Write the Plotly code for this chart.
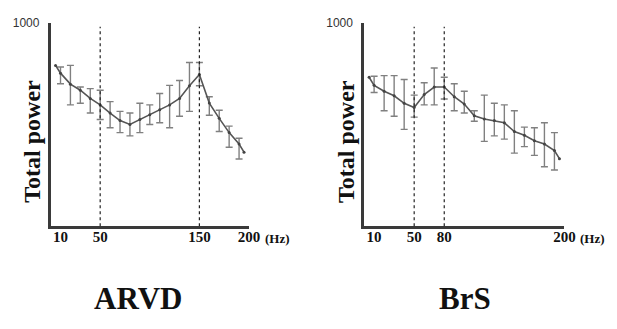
import plotly.graph_objects as go

# ---------------- data ----------------
freq_line = [5, 10, 20, 30, 40, 50, 60, 70, 80, 90, 100, 110, 120, 130, 140, 150, 160, 170, 180, 190, 195]
freq_bars = [10, 20, 30, 40, 50, 60, 70, 80, 90, 100, 110, 120, 130, 140, 150, 160, 170, 180, 190]

arvd_mean = [790, 752, 698, 668, 628, 596, 556, 519, 500, 524, 548, 572, 596, 628, 690, 745, 605, 530, 460, 404, 364]
arvd_upper = [782, 790, 684, 676, 668, 612, 564, 556, 604, 596, 652, 692, 716, 804, 804, 636, 570, 492, 432]
arvd_lower = [700, 596, 604, 556, 524, 484, 460, 444, 460, 500, 508, 484, 540, 564, 690, 545, 465, 388, 330]

brs_mean = [732, 692, 663, 641, 604, 583, 647, 684, 684, 636, 600, 543, 527, 519, 508, 465, 447, 420, 404, 372, 332]
brs_upper = [737, 740, 740, 721, 644, 705, 777, 732, 700, 663, 567, 644, 604, 596, 567, 487, 484, 508, 460]
brs_lower = [657, 567, 540, 476, 536, 596, 596, 625, 567, 556, 516, 417, 444, 428, 359, 391, 348, 292, 276]

arvd_vlines = [50, 150]
brs_vlines = [50, 80]

arvd_ticks = [10, 50, 150, 200]
brs_ticks = [10, 50, 80, 200]

panel_titles = ["ARVD", "BrS"]
y_top_label = "1000"
y_title = "Total power"

# ---------------- figure ----------------
W, H = 617, 329
fig = go.Figure()

LINE_C = "#555555"
BAR_C = "#808080"
AX_C = "#3a3a3a"
SERIF = "Liberation Serif, Times New Roman, serif"


def mean_at(freqs_line, means, f):
    return means[freqs_line.index(f)]


panels = [
    ("x", "y", arvd_mean, arvd_upper, arvd_lower, arvd_vlines, arvd_ticks),
    ("x2", "y2", brs_mean, brs_upper, brs_lower, brs_vlines, brs_ticks),
]

for xa, ya, mean, up, lo, vl, ticks in panels:
    bar_mean = [mean_at(freq_line, mean, f) for f in freq_bars]
    fig.add_trace(go.Scatter(
        x=freq_bars, y=bar_mean, mode="markers",
        marker=dict(size=1, color=BAR_C),
        error_y=dict(type="data", symmetric=False,
                     array=[u - m for u, m in zip(up, bar_mean)],
                     arrayminus=[m - l for m, l in zip(bar_mean, lo)],
                     color=BAR_C, thickness=1.4, width=3.5),
        xaxis=xa, yaxis=ya, showlegend=False, hoverinfo="skip"))
    fig.add_trace(go.Scatter(
        x=freq_line, y=mean, mode="lines+markers",
        line=dict(color=LINE_C, width=1.6),
        marker=dict(size=3, color="#444444"),
        xaxis=xa, yaxis=ya, showlegend=False))
    for v in vl:
        fig.add_shape(type="line", xref=xa, yref=ya, x0=v, x1=v, y0=0, y1=980,
                      line=dict(color="#222222", width=1.2, dash="dot"))

xdom1 = [51.5 / W, 253.5 / W]
xdom2 = [370.7 / W, 574.7 / W]
ydom = [(H - 224) / H, (H - 16) / H]

common_x = dict(range=[0, 200], showgrid=False, zeroline=False, showline=True,
                linecolor=AX_C, linewidth=2.5, ticks="", tickmode="array",
                tickfont=dict(family=SERIF, size=15, color="#111111"),
                ticklabelstandoff=-5)
common_y = dict(range=[0, 1000], showgrid=False, zeroline=False, showline=True,
                linecolor=AX_C, linewidth=2.5, ticks="", tickmode="array",
                tickvals=[1000], ticktext=[y_top_label],
                tickfont=dict(family="Liberation Sans, Arial, sans-serif", size=12, color="#333333"),
                ticklabelstandoff=6)

fig.update_layout(
    width=W, height=H, margin=dict(l=0, r=0, t=0, b=0),
    paper_bgcolor="white", plot_bgcolor="white",
    xaxis=dict(domain=xdom1, anchor="y", tickvals=arvd_ticks,
               ticktext=["<b>%d</b>" % t for t in arvd_ticks], **common_x),
    yaxis=dict(domain=ydom, anchor="x", **common_y),
    xaxis2=dict(domain=xdom2, anchor="y2", tickvals=brs_ticks,
                ticktext=["<b>%d</b>" % t for t in brs_ticks], **common_x),
    yaxis2=dict(domain=ydom, anchor="x2", **common_y),
)

ann = []
for cx, title in zip([140, 473], panel_titles):
    ann.append(dict(text="<b>%s</b>" % title, x=cx / W, y=(H - 298) / H, xref="paper", yref="paper",
                    showarrow=False, font=dict(family=SERIF, size=31, color="#111111"),
                    xanchor="center", yanchor="middle"))
for cx in [31.7, 351.7]:
    ann.append(dict(text="<b>%s</b>" % y_title, x=cx / W, y=(H - 137.5) / H, xref="paper", yref="paper",
                    showarrow=False, textangle=-90, font=dict(family=SERIF, size=24, color="#111111"),
                    xanchor="center", yanchor="middle"))
for lx in [268, 589]:
    ann.append(dict(text="<b>(Hz)</b>", x=lx / W, y=(H - 237) / H, xref="paper", yref="paper",
                    showarrow=False, font=dict(family=SERIF, size=13, color="#111111"),
                    xanchor="left", yanchor="middle"))
fig.update_layout(annotations=ann)

fig.write_html("out.html", config={"displayModeBar": False},
               post_script="document.body.style.margin='0';document.body.style.overflow='hidden';")
